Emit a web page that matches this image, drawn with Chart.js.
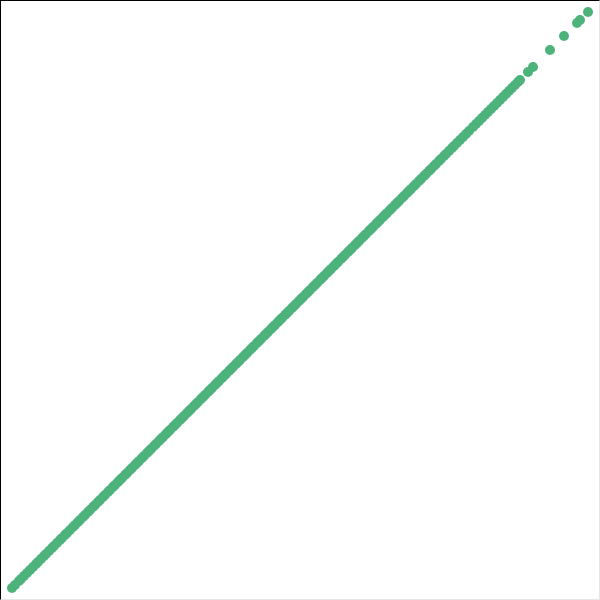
<!DOCTYPE html>
<html>
<head>
<meta charset="utf-8">
<script src="https://cdn.jsdelivr.net/npm/chart.js@4"></script>
<style>
  html, body { margin: 0; padding: 0; background: #fff; }
  #wrap {
    width: 600px; height: 600px; box-sizing: border-box;
    border-top: 1px solid #000; border-left: 1px solid #000;
    border-right: 1px solid #e6e6e6; border-bottom: 1px solid #e6e6e6;
  }
  #wrap canvas { display: block; }
</style>
</head>
<body>
<div id="wrap"><canvas id="qqChart" width="598" height="598"></canvas></div>
<script>
// sample quantiles (x) vs theoretical quantiles (y)
const xValues = [12, 15, 19, 21, 24, 27, 30, 33, 36, 38, 41, 44, 46, 49, 52, 54, 57, 60, 62, 65,
  67, 70, 73, 75, 78, 80, 83, 85, 88, 90, 93, 95, 98, 100, 103, 105, 108, 110, 113, 115,
  118, 120, 122, 125, 127, 130, 132, 135, 137, 139, 142, 144, 147, 149, 151, 154, 156, 159, 161, 163,
  166, 168, 170, 173, 175, 177, 180, 182, 184, 187, 189, 191, 194, 196, 198, 201, 203, 205, 208, 210,
  212, 215, 217, 219, 222, 224, 226, 229, 231, 233, 236, 238, 240, 243, 245, 247, 250, 252, 254, 257,
  259, 261, 264, 266, 268, 271, 273, 275, 278, 280, 282, 285, 287, 289, 292, 294, 296, 299, 301, 303,
  306, 308, 310, 313, 315, 317, 320, 322, 324, 327, 329, 331, 334, 336, 338, 341, 343, 345, 348, 350,
  352, 355, 357, 359, 362, 364, 366, 369, 371, 373, 376, 378, 380, 383, 385, 387, 390, 392, 395, 397,
  399, 402, 404, 407, 409, 411, 414, 416, 419, 421, 424, 426, 429, 431, 434, 436, 439, 441, 444, 446,
  449, 452, 454, 457, 460, 463, 466, 469, 473, 476, 479, 482, 485, 488, 491, 494, 497, 500, 503, 506,
  509, 512, 515, 518, 520, 528, 533, 550, 564, 577, 580, 588];
const yValues = [12, 15, 19, 21, 24, 27, 30, 33, 36, 38, 41, 44, 46, 49, 52, 54, 57, 60, 62, 65,
  67, 70, 73, 75, 78, 80, 83, 85, 88, 90, 93, 95, 98, 100, 103, 105, 108, 110, 113, 115,
  118, 120, 122, 125, 127, 130, 132, 135, 137, 139, 142, 144, 147, 149, 151, 154, 156, 159, 161, 163,
  166, 168, 170, 173, 175, 177, 180, 182, 184, 187, 189, 191, 194, 196, 198, 201, 203, 205, 208, 210,
  212, 215, 217, 219, 222, 224, 226, 229, 231, 233, 236, 238, 240, 243, 245, 247, 250, 252, 254, 257,
  259, 261, 264, 266, 268, 271, 273, 275, 278, 280, 282, 285, 287, 289, 292, 294, 296, 299, 301, 303,
  306, 308, 310, 313, 315, 317, 320, 322, 324, 327, 329, 331, 334, 336, 338, 341, 343, 345, 348, 350,
  352, 355, 357, 359, 362, 364, 366, 369, 371, 373, 376, 378, 380, 383, 385, 387, 390, 392, 395, 397,
  399, 402, 404, 407, 409, 411, 414, 416, 419, 421, 424, 426, 429, 431, 434, 436, 439, 441, 444, 446,
  449, 452, 454, 457, 460, 463, 466, 469, 473, 476, 479, 482, 485, 488, 491, 494, 497, 500, 503, 506,
  509, 512, 515, 518, 520, 528, 533, 550, 564, 577, 580, 588];
const axisMin = 1;
const axisMax = 599;

const points = xValues.map((x, i) => ({ x: x, y: yValues[i] }));

const ctx = document.getElementById('qqChart').getContext('2d');
new Chart(ctx, {
  type: 'scatter',
  data: {
    datasets: [{
      data: points,
      backgroundColor: '#4db37b',
      borderWidth: 0,
      pointRadius: 5,
      pointHoverRadius: 5
    }]
  },
  options: {
    responsive: false,
    animation: false,
    layout: { padding: 0, autoPadding: false },
    plugins: { legend: { display: false }, tooltip: { enabled: false } },
    scales: {
      x: { type: 'linear', min: axisMin, max: axisMax, display: false },
      y: { type: 'linear', min: axisMin, max: axisMax, display: false }
    }
  }
});
</script>
</body>
</html>
